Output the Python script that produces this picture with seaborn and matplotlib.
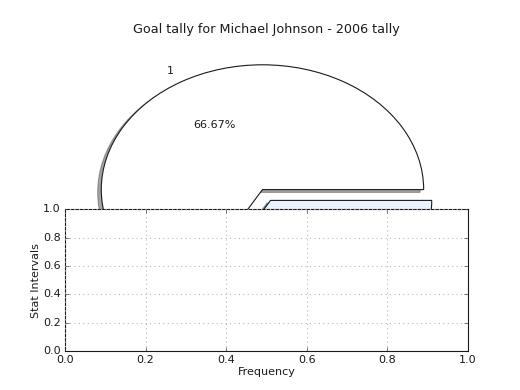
import matplotlib
matplotlib.use("Agg")
import matplotlib.pyplot as plt
import matplotlib.style as mstyle
import seaborn as sns

# dados do grafico
fatias = [2, 1]
rotulos = ['1', '']
cores = ['white', '#EAF2FE']
destaque = [0.05, 0.05]

# estilo classico via seaborn
estilo = dict(mstyle.library['classic'])
estilo['font.size'] = 10
estilo['axes.labelpad'] = 1.5
sns.set_theme(rc=estilo)

fig = plt.figure(figsize=(6.5, 4.875), dpi=80)

# pizza no eixo inteiro (sem aspecto igual, fica achatada)
ax1 = fig.add_subplot(111)
ax1.pie(fatias, labels=rotulos, colors=cores, explode=destaque,
        autopct='%1.2f%%', shadow=True)
ax1.set_aspect('auto')
ax1.set_xlim(-1.25, 1.25)
ax1.set_ylim(-1.25, 1.25)
ax1.set_title('Goal tally for Michael Johnson - 2006 tally', fontsize=11.5)

# eixo inferior por cima
ax2 = fig.add_subplot(212)
ax2.set_xlabel('Frequency')
ax2.set_ylabel('Stat Intervals')
ax2.grid(True, color='#b8b8b8', linestyle=':', linewidth=1)

plt.savefig('out.png', dpi=80)
